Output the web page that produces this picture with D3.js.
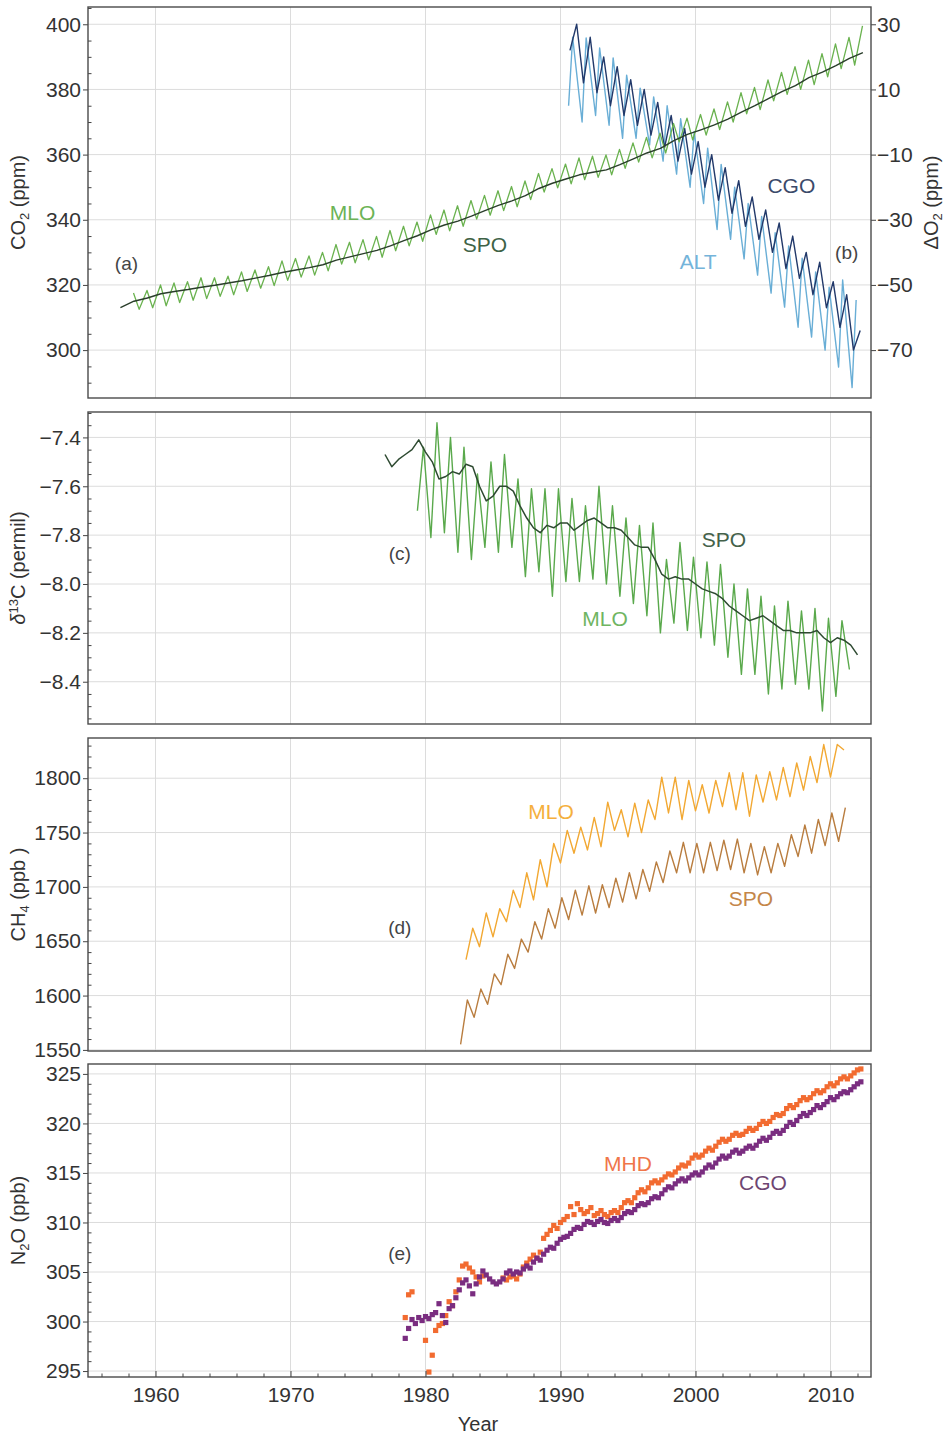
<!DOCTYPE html>
<html><head><meta charset="utf-8">
<script src="https://cdn.jsdelivr.net/npm/d3@7"></script>
<style>
body{margin:0;background:#fff}
svg text{font-family:"Liberation Sans",Arial,Helvetica,sans-serif}
</style>
</head><body>
<svg id="chart" width="951" height="1440"></svg>
<script>
// ---------------- DATA ----------------
const xTickYears = [1960,1970,1980,1990,2000,2010];
const co2Ticks = [300,320,340,360,380,400];
const o2Ticks = [-70,-50,-30,-10,10,30];
const d13cTicks = [-8.4,-8.2,-8.0,-7.8,-7.6,-7.4];
const ch4Ticks = [1550,1600,1650,1700,1750,1800];
const n2oTicks = [295,300,305,310,315,320,325];

// (a) CO2 Mauna Loa: seasonal maxima (May) and minima (Oct), 1958 onward
const co2MloStart = 1958;
const co2MloMay = [317.5,318.3,320.0,320.6,321.0,322.2,322.2,322.7,324.0,324.6,325.6,327.4,328.1,328.9,330.0,332.4,333.1,333.9,334.9,336.7,338.0,339.3,341.5,343.0,344.3,345.9,347.5,348.9,350.2,351.9,354.2,355.7,357.1,359.0,359.5,359.9,361.6,363.6,365.3,366.6,369.6,371.2,372.3,374.0,376.2,379.0,380.6,382.9,385.2,387.0,389.0,391.0,394.0,396.0,399.5];
const co2MloOct = [312.5,313.0,313.6,314.6,315.3,315.8,316.5,317.0,318.0,319.0,319.8,321.4,322.4,323.0,324.3,326.4,326.8,327.7,328.5,330.5,332.0,333.4,335.5,336.6,338.0,340.2,341.4,342.8,344.0,346.2,348.5,349.8,351.0,352.3,353.0,353.8,355.8,357.7,359.0,360.5,363.9,364.5,366.0,367.7,370.0,372.5,373.8,376.5,378.5,380.0,381.5,383.9,386.4,387.5];
// (a) CO2 South Pole, yearly from 1957.4
const co2SpoStart = 1957.4;
const co2Spo = [313.0,315.0,316.0,317.3,318.0,318.6,319.3,319.9,320.6,321.3,322.1,322.9,323.8,324.6,325.3,326.2,327.6,328.6,329.6,330.6,332.0,333.6,335.1,336.9,338.4,339.6,341.1,342.8,344.4,345.8,347.4,349.6,351.2,352.5,353.8,354.6,355.3,356.9,358.7,360.5,361.9,364.3,366.2,367.6,369.1,370.9,373.0,375.0,377.2,379.3,381.2,383.6,385.3,387.3,389.5,391.3];
// (b) delta O2 (ppm), Cape Grim: half-year steps from 1990.7
const o2CgoStart = 1990.7;
const o2Cgo = [22,30,12,26,9,20,5,17,2,13,-1,10,-4,6,-8,2,-12,-2,-16,-6,-20,-10,-24,-14,-28,-18,-32,-23,-36,-27,-40,-31,-45,-35,-48,-40,-53,-43,-57,-49,-63,-53,-70,-64];
// (b) delta O2 (ppm), Alert: minimum / maximum pairs from 1990.6
const o2AltStart = 1990.6;
const o2Alt = [5,26,0,25.8,2,22.7,-1,19.7,-5,14.4,-5,10.4,-7,7.7,-12,5,-16,1,-20,-3,-25,-8,-33,-13,-36,-20,-42,-25,-47,-29,-52.5,-34,-56.8,-38,-63,-41.8,-66,-46,-70,-50.7,-75.2,-48.5,-81.5,-54.6];
// (c) delta13C South Pole, half-year steps from 1977.0
const d13cSpoStart = 1977.0;
const d13cSpo = [-7.47,-7.52,-7.49,-7.47,-7.45,-7.41,-7.46,-7.50,-7.57,-7.56,-7.54,-7.55,-7.51,-7.52,-7.60,-7.66,-7.64,-7.60,-7.60,-7.62,-7.68,-7.73,-7.77,-7.79,-7.76,-7.77,-7.75,-7.75,-7.78,-7.76,-7.74,-7.73,-7.75,-7.77,-7.77,-7.78,-7.81,-7.84,-7.85,-7.85,-7.90,-7.96,-7.98,-7.97,-7.98,-7.98,-8.00,-8.02,-8.03,-8.04,-8.06,-8.09,-8.11,-8.13,-8.15,-8.14,-8.13,-8.15,-8.17,-8.19,-8.19,-8.20,-8.20,-8.20,-8.19,-8.22,-8.24,-8.22,-8.23,-8.25,-8.29];
// (c) delta13C Mauna Loa, minimum / maximum pairs from 1979.4
const d13cMloStart = 1979.4;
const d13cMlo = [-7.70,-7.44,-7.81,-7.34,-7.79,-7.40,-7.87,-7.44,-7.90,-7.55,-7.85,-7.50,-7.87,-7.47,-7.85,-7.57,-7.97,-7.61,-7.95,-7.61,-8.05,-7.61,-7.99,-7.65,-7.99,-7.68,-7.98,-7.60,-8.00,-7.68,-8.05,-7.73,-8.08,-7.76,-8.13,-7.75,-8.20,-7.90,-8.16,-7.83,-8.19,-7.89,-8.22,-7.91,-8.25,-7.92,-8.30,-8.00,-8.37,-8.02,-8.37,-8.05,-8.45,-8.09,-8.43,-8.07,-8.41,-8.11,-8.43,-8.10,-8.52,-8.14,-8.46,-8.15,-8.35];
// (d) CH4 Mauna Loa, half-year steps from 1983.0
const ch4MloStart = 1983.0;
const ch4Mlo = [1633,1662,1645,1676,1654,1680,1668,1697,1681,1713,1688,1725,1700,1740,1722,1752,1731,1755,1734,1764,1737,1778,1752,1771,1746,1777,1750,1780,1762,1801,1768,1801,1762,1798,1770,1794,1768,1798,1774,1805,1771,1805,1765,1803,1778,1806,1780,1810,1783,1814,1789,1820,1796,1831,1801,1831,1826];
// (d) CH4 South Pole, half-year steps from 1982.6
const ch4SpoStart = 1982.6;
const ch4Spo = [1555,1596,1580,1606,1592,1620,1610,1638,1625,1652,1640,1668,1652,1680,1662,1690,1670,1697,1674,1701,1676,1702,1681,1708,1686,1713,1689,1716,1696,1723,1704,1733,1713,1741,1713,1740,1713,1741,1715,1743,1716,1744,1713,1740,1711,1737,1713,1740,1719,1748,1728,1757,1731,1762,1738,1768,1742,1773];
// (e) N2O, quarterly from 1978.0 (null = no sample)
const n2oStart = 1978.0;
const n2oMhd = [
 null,null,300.4,302.7, 303.0,null,null,null, 298.1,294.9,296.6,299.1, 299.6,299.8,300.6,302.0,
 301.6,303.0,304.2,305.6, 305.8,305.4,305.0,304.5, 304.0,304.6,null,null, null,null,null,304.4,
 304.2,304.5,304.6,304.3, 304.8,305.5,305.9,306.3, 306.7,306.4,307.0,308.4, 308.8,309.2,309.7,309.4,
 310.0,310.3,310.6,311.6, 310.8,311.9,311.3,310.9, 311.1,311.5,310.7,310.9, 311.2,310.8,310.6,311.0,
 311.2,311.0,311.5,312.0, 312.2,312.0,312.5,313.0, 313.3,313.1,313.5,314.0, 314.2,314.0,314.3,314.6,
 314.9,314.8,315.1,315.5, 315.8,315.7,316.0,316.5, 316.8,316.6,316.8,317.2, 317.5,317.3,317.7,318.1,
 318.4,318.2,318.4,318.8, 319.0,318.8,318.9,319.2, 319.5,319.3,319.5,319.9, 320.2,320.0,320.2,320.6,
 320.9,320.8,321.0,321.5, 321.8,321.6,321.9,322.3, 322.6,322.4,322.6,323.0, 323.3,323.1,323.3,323.7,
 324.0,323.8,324.1,324.5, 324.7,324.5,324.8,325.1, 325.4,325.5];
const n2oCgo = [
 null,null,298.3,299.3, 300.2,299.8,300.4,300.1, 300.5,300.3,300.7,300.9, 301.8,300.6,299.9,301.3,
 301.6,302.4,303.2,303.9, 304.2,303.6,302.8,303.8, 304.5,305.1,304.7,304.3, 304.0,303.8,304.0,304.3,
 304.9,305.1,304.8,305.0, 304.9,305.3,305.6,305.4, 306.0,306.4,306.2,306.8, 307.2,307.5,307.4,307.9,
 308.3,308.5,308.6,308.9, 309.3,309.5,309.4,309.8, 310.1,310.0,309.8,310.1, 310.3,310.0,309.9,310.2,
 310.4,310.2,310.5,310.9, 311.1,311.0,311.3,311.7, 311.9,311.8,312.0,312.4, 312.6,312.5,312.9,313.3,
 313.6,313.5,313.9,314.2, 314.4,314.2,314.5,314.8, 315.0,314.8,315.1,315.5, 315.8,315.6,316.0,316.4,
 316.7,316.5,316.7,317.1, 317.3,317.0,317.2,317.5, 317.7,317.5,317.8,318.2, 318.5,318.3,318.6,319.0,
 319.2,319.0,319.3,319.7, 320.1,319.9,320.3,320.7, 321.0,320.8,321.1,321.4, 321.8,321.6,321.9,322.2,
 322.6,322.4,322.7,323.0, 323.2,323.1,323.4,323.7, 324.0,324.2];

// ---------------- LAYOUT ----------------
const svg = d3.select("#chart");
const L = 88, R = 871;
const x = d3.scaleLinear().domain([1955, 2013]).range([L, R]);

const C = {
  co2Mlo:"#6ab24f", co2Spo:"#2a3e2b", alt:"#69aed6", cgoO2:"#22396a",
  d13Mlo:"#5aa94c", d13Spo:"#2e4a31", ch4Mlo:"#f2a832", ch4Spo:"#b97d3f",
  mhd:"#f26b30", cgoN2O:"#7a2d80"
};

function evenSeries(t0, dt, vals){ return vals.map((v,i)=>({t:t0+i*dt, v})); }
function pairSeries(t0, gap, vals){ return vals.map((v,i)=>({t:t0+Math.floor(i/2)+(i%2)*gap, v})); }
function mayOct(t0, may, oct){
  const out=[];
  may.forEach((v,i)=>{ out.push({t:t0+i+0.37, v}); if(oct[i]!=null) out.push({t:t0+i+0.79, v:oct[i]}); });
  return out;
}

function panel(top, bottom, domain, ticks, minorStep, label){
  const y = d3.scaleLinear().domain(domain).range([bottom, top]);
  const g = svg.append("g");
  g.selectAll(null).data(xTickYears).join("line")
    .attr("x1", d=>x(d)).attr("x2", d=>x(d)).attr("y1", top).attr("y2", bottom)
    .attr("stroke", "#dcdcdc").attr("stroke-width", 1);
  g.selectAll(null).data(ticks.filter(t=>y(t)>top+1 && y(t)<bottom-1)).join("line")
    .attr("x1", L).attr("x2", R).attr("y1", d=>y(d)).attr("y2", d=>y(d))
    .attr("stroke", "#dcdcdc").attr("stroke-width", 1);
  const minor = d3.range(Math.ceil(domain[0]/minorStep)*minorStep, domain[1], minorStep)
    .filter(v => !ticks.some(t=>Math.abs(t-v)<minorStep/10));
  const ga = g.append("g").attr("transform", `translate(${L},0)`)
    .call(d3.axisLeft(y).tickValues(minor).tickSize(-3.5).tickFormat(""));
  ga.select(".domain").remove();
  ga.selectAll("line").attr("stroke", "#444");
  const gm = g.append("g").attr("transform", `translate(${L},0)`)
    .call(d3.axisLeft(y).tickValues(ticks).tickSize(5).tickPadding(2)
      .tickFormat(Math.abs(ticks[1]-ticks[0])<1 ? d3.format(".1f") : d3.format("d")));
  gm.select(".domain").remove();
  gm.selectAll("line").attr("stroke", "#444");
  gm.selectAll("text").attr("font-size", 21).attr("fill", "#333");
  const tt = g.append("text").attr("transform", `translate(25,${(top+bottom)/2}) rotate(-90)`)
    .attr("text-anchor", "middle").attr("font-size", 20).attr("fill", "#333");
  label(tt);
  return {y, g, top, bottom};
}

function frame(p){
  p.g.append("rect").attr("x", L).attr("y", p.top).attr("width", R-L).attr("height", p.bottom-p.top)
    .attr("fill", "none").attr("stroke", "#4a4a4a").attr("stroke-width", 1.4);
}

function drawLine(p, yScale, data, color, w){
  p.g.append("path").datum(data)
    .attr("d", d3.line().defined(d=>d.v!=null).x(d=>x(d.t)).y(d=>yScale(d.v)))
    .attr("fill", "none").attr("stroke", color).attr("stroke-width", w||1.2)
    .attr("stroke-linejoin", "round");
}

function txt(p, yScale, t, v, s, color, size){
  p.g.append("text").attr("x", x(t)).attr("y", yScale(v)).attr("text-anchor", "middle")
    .attr("dominant-baseline", "central").attr("font-size", size||21).attr("fill", color).text(s);
}

// ---------- panel (a)/(b) ----------
const pa = panel(7, 398, [285.3, 405.3], co2Ticks, 5, t=>{
  t.append("tspan").text("CO");
  t.append("tspan").attr("font-size", 13).attr("dy", 4).text("2");
  t.append("tspan").attr("dy", -4).text(" (ppm)");
});
const yO2 = d3.scaleLinear().domain([285.3-370, 405.3-370]).range([398, 7]);
const gr = pa.g.append("g").attr("transform", `translate(${R},0)`)
  .call(d3.axisRight(yO2).tickValues(o2Ticks).tickSize(5).tickPadding(1).tickFormat(d3.format("d")));
gr.select(".domain").remove();
gr.selectAll("line").attr("stroke", "#444");
gr.selectAll("text").attr("font-size", 21).attr("fill", "#333");
const rt = pa.g.append("text").attr("transform", `translate(938,${(7+398)/2}) rotate(-90)`)
  .attr("text-anchor", "middle").attr("font-size", 20).attr("fill", "#333");
rt.append("tspan").text("ΔO");
rt.append("tspan").attr("font-size", 13).attr("dy", 4).text("2");
rt.append("tspan").attr("dy", -4).text(" (ppm)");

drawLine(pa, yO2, pairSeries(o2AltStart, 0.3, o2Alt), C.alt, 1.4);
drawLine(pa, yO2, evenSeries(o2CgoStart, 0.5, o2Cgo), C.cgoO2, 1.4);
drawLine(pa, pa.y, mayOct(co2MloStart, co2MloMay, co2MloOct), C.co2Mlo, 1.3);
drawLine(pa, pa.y, evenSeries(co2SpoStart, 1, co2Spo), C.co2Spo, 1.4);
frame(pa);
txt(pa, pa.y, 1974.6, 342.1, "MLO", "#6cb356");
txt(pa, pa.y, 1984.4, 332.5, "SPO", "#3e6246");
txt(pa, pa.y, 1957.85, 326.7, "(a)", "#444", 19);
txt(pa, yO2, 2000.2, -42.7, "ALT", "#74b4da");
txt(pa, yO2, 2007.1, -19.6, "CGO", "#3b4a6a");
txt(pa, yO2, 2011.2, -39.9, "(b)", "#444", 19);

// ---------- panel (c) ----------
const pc = panel(412, 724, [-8.573, -7.296], d13cTicks, 0.05, t=>{
  t.append("tspan").attr("font-style", "italic").text("δ");
  t.append("tspan").attr("font-size", 13).attr("dy", -7).text("13");
  t.append("tspan").attr("dy", 7).text("C (permil)");
});
drawLine(pc, pc.y, pairSeries(d13cMloStart, 0.45, d13cMlo), C.d13Mlo, 1.4);
drawLine(pc, pc.y, evenSeries(d13cSpoStart, 0.5, d13cSpo), C.d13Spo, 1.5);
frame(pc);
txt(pc, pc.y, 1978.1, -7.877, "(c)", "#444", 19);
txt(pc, pc.y, 2002.1, -7.816, "SPO", "#44614a");
txt(pc, pc.y, 1993.3, -8.143, "MLO", "#6fb562");

// ---------- panel (d) ----------
const pd = panel(738, 1051, [1549, 1837], ch4Ticks, 10, t=>{
  t.append("tspan").text("CH");
  t.append("tspan").attr("font-size", 13).attr("dy", 4).text("4");
  t.append("tspan").attr("dy", -4).text(" (ppb )");
});
drawLine(pd, pd.y, evenSeries(ch4MloStart, 0.5, ch4Mlo), C.ch4Mlo, 1.4);
drawLine(pd, pd.y, evenSeries(ch4SpoStart, 0.5, ch4Spo), C.ch4Spo, 1.4);
frame(pd);
txt(pd, pd.y, 1989.3, 1769, "MLO", "#f5b03e");
txt(pd, pd.y, 2004.1, 1689, "SPO", "#c4864a");
txt(pd, pd.y, 1978.1, 1663, "(d)", "#444", 19);

// ---------- panel (e) ----------
const pe = panel(1064, 1377, [294.4, 326.0], n2oTicks, 1, t=>{
  t.append("tspan").text("N");
  t.append("tspan").attr("font-size", 13).attr("dy", 4).text("2");
  t.append("tspan").attr("dy", -4).text("O (ppb)");
});
function dots(p, data, color){
  p.g.append("g").selectAll("rect").data(data.filter(d=>d.v!=null)).join("rect")
    .attr("x", d=>x(d.t)-2.6).attr("y", d=>p.y(d.v)-2.6).attr("width", 5.2).attr("height", 5.2)
    .attr("fill", color);
}
dots(pe, evenSeries(n2oStart, 0.25, n2oMhd), C.mhd);
dots(pe, evenSeries(n2oStart, 0.25, n2oCgo), C.cgoN2O);
frame(pe);
const xMinor = d3.range(1956, 2013, 2).filter(v=>v%10!==0);
const gxm = pe.g.append("g").attr("transform", `translate(0,1377)`)
  .call(d3.axisBottom(x).tickValues(xMinor).tickSize(-3.5).tickFormat(""));
gxm.select(".domain").remove(); gxm.selectAll("line").attr("stroke", "#444");
const gx = pe.g.append("g").attr("transform", `translate(0,1377)`)
  .call(d3.axisBottom(x).tickValues(xTickYears).tickSize(-6).tickPadding(10).tickFormat(d3.format("d")));
gx.select(".domain").remove(); gx.selectAll("line").attr("stroke", "#444");
gx.selectAll("text").attr("font-size", 21).attr("fill", "#333");
pe.g.append("text").attr("x", 478).attr("y", 1431).attr("text-anchor", "middle")
  .attr("font-size", 20).attr("fill", "#333").text("Year");
txt(pe, pe.y, 1995.0, 316.0, "MHD", "#f0764a");
txt(pe, pe.y, 2005.0, 314.0, "CGO", "#6e4672");
txt(pe, pe.y, 1978.1, 306.9, "(e)", "#444", 19);
</script>
</body></html>
